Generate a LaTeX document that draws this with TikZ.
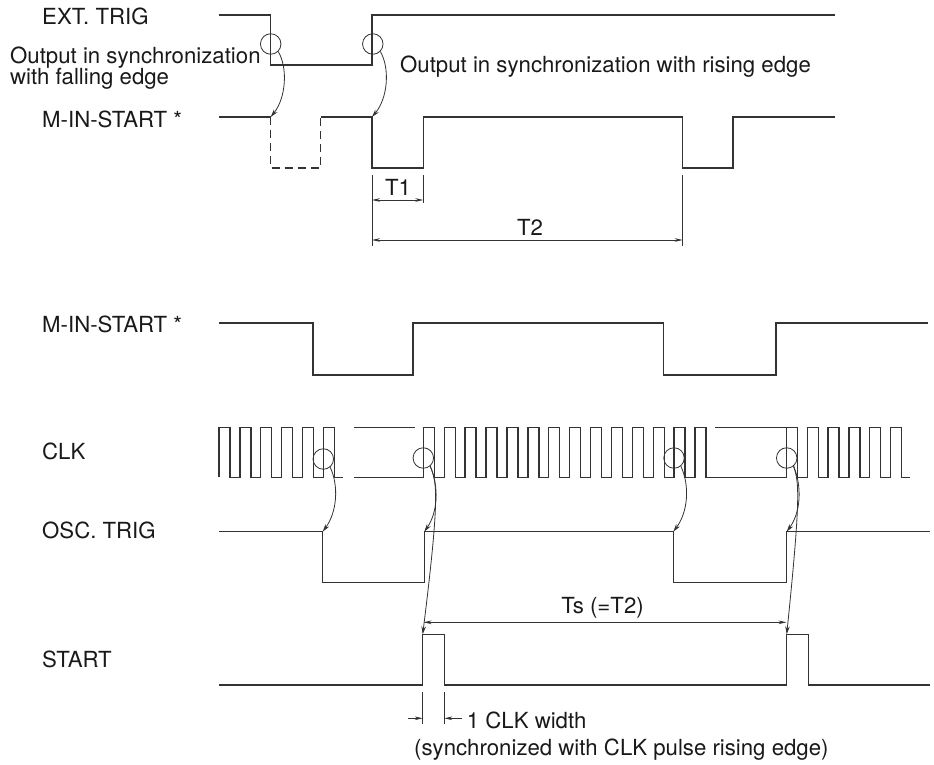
\documentclass[tikz,border=0pt]{standalone}
\usepackage{fontspec}
\setmainfont{TeX Gyre Heros}
\usetikzlibrary{arrows.meta}
\definecolor{ink}{HTML}{333333}
\tikzset{
  sig/.style={line width=1.4pt, draw=ink, line join=miter},
  thinl/.style={line width=0.8pt, draw=ink},
  arr/.style={thinl, -{Stealth[length=8pt,width=4.5pt]}},
  dimarr/.style={thinl, {Stealth[length=8pt,width=3.6pt]}-{Stealth[length=8pt,width=3.6pt]}},
  onearr/.style={thinl, -{Stealth[length=8pt,width=3.6pt]}},
  ring/.style={circle, draw=ink, line width=0.8pt, minimum size=20.5pt, inner sep=0pt},
  lbl/.style={font=\fontsize{22.2}{24}\selectfont, text=black!90, inner sep=0pt, anchor=base west},
  lblc/.style={font=\fontsize{22.2}{24}\selectfont, text=black!90, inner sep=0pt, anchor=base},
}
\begin{document}
\begin{tikzpicture}[x=1pt,y=-1pt]
\useasboundingbox (0,0) rectangle (934,765);

% ---------- labels ----------
\node[lbl] (lext) at (42,24.5) {EXT. TRIG};
\node[lbl] (lfall1) at (10,63.5) {Output in synchronization};
\node[lbl] (lfall2) at (10,85) {with falling edge};
\node[lbl] (lmin1) at (42,128) {M-IN-START *};
\node[lbl] (lrise) at (400,73) {Output in synchronization with rising edge};
\node[lblc] (lt1) at (398,195) {T1};
\node[lblc] (lt2) at (530,235) {T2};
\node[lbl] (lmin2) at (42,332) {M-IN-START *};
\node[lbl] (lclk) at (42,459) {CLK};
\node[lbl] (losc) at (42,538) {OSC. TRIG};
\node[lbl] (lstart) at (42,667) {START};
\node[lblc] (lts) at (602.5,613) {Ts (=T2)};
\node[lbl] (lw1) at (466.7,728) {1 CLK width};
\node[lbl] (lw2) at (414,755) {(synchronized with CLK pulse rising edge)};

% ---------- EXT. TRIG ----------
\draw[sig] (219,15) -- (270.7,15) -- (270.7,65) -- (372,65) -- (372,15) -- (835,15);

% ---------- M-IN-START (top) ----------
\coordinate (m1f) at (270.7,117);
\coordinate (m1r) at (372,117);
\draw[sig] (219,117) -- (m1f);
\draw[sig, dash pattern=on 8pt off 5pt] (m1f) -- (270.7,168) -- (320.7,168) -- (320.7,117);
\draw[sig] (320.7,117) -- (m1r) -- (372,168) -- (423.3,168) -- (423.3,117) -- (682.7,117)
  -- (682.7,168) -- (733,168) -- (733,117) -- (835,117);

% circles and arrows (top)
\node[ring] (ca) at (270.7,44) {};
\node[ring] (cb) at (372.8,44) {};
\draw[arr] (ca.-45) .. controls (288,68) and (286,98) .. (m1f);
\draw[arr] (cb.-45) .. controls (390,68) and (388,98) .. (m1r);

% T1 / T2 dimensions
\coordinate (d1a) at (372,175);
\coordinate (d1b) at (372,246);
\coordinate (d2a) at (423.3,175);
\coordinate (d2b) at (423.3,203);
\coordinate (d3a) at (682.7,175);
\coordinate (d3b) at (682.7,246);
\draw[thinl] (d1a) -- (d1b);
\draw[thinl] (d2a) -- (d2b);
\draw[thinl] (d3a) -- (d3b);
\coordinate (t1a) at (372,200);
\coordinate (t1b) at (423.3,200);
\coordinate (t2a) at (372,240);
\coordinate (t2b) at (682.7,240);
\draw[dimarr] (t1a) -- (t1b);
\draw[dimarr] (t2a) -- (t2b);

% ---------- M-IN-START (bottom) ----------
\draw[sig] (219,323) -- (313,323) -- (313,375) -- (413,375) -- (413,323) -- (663.3,323)
  -- (663.3,375) -- (776,375) -- (776,323) -- (928,323);

% ---------- CLK ----------
\def\hi{427.3}
\def\lo{477.3}
\draw[sig] (219,\lo)
  \foreach \k in {0,...,5}{ -- ({219+\k*20.85},\lo) -- ({219+\k*20.85},\hi) -- ({230+\k*20.85},\hi) -- ({230+\k*20.85},\lo) }
  -- (342.7,\lo);
\draw[sig] (354,\hi) -- (415,\hi);
\draw[sig] (354,\lo)
  \foreach \k in {0,...,13}{ -- ({423.3+\k*20.9},\lo) -- ({423.3+\k*20.9},\hi) -- ({434.3+\k*20.9},\hi) -- ({434.3+\k*20.9},\lo) }
  \foreach \k in {0,...,5}{ -- ({786.7+\k*20.7},\lo) -- ({786.7+\k*20.7},\hi) -- ({797.7+\k*20.7},\hi) -- ({797.7+\k*20.7},\lo) }
  -- (910,\lo);
\draw[sig] (715,\hi) -- (786.7,\hi);

\node[ring] (c1) at (323.3,459) {};
\node[ring] (c2) at (423.3,458) {};
\node[ring] (c3) at (674,458) {};
\node[ring] (c4) at (786.7,458) {};

% ---------- OSC. TRIG ----------
\coordinate (o1) at (322.7,531.7);
\coordinate (o2) at (424.3,531.7);
\coordinate (o3) at (673.3,531.7);
\coordinate (o4) at (786.7,531.7);
\draw[sig] (219,531.7) -- (o1) -- (322.7,582.3) -- (424.3,582.3) -- (o2) -- (o3)
  -- (673.3,582.3) -- (786.7,582.3) -- (o4) -- (930,531.7);

\draw[arr] (c1.-50) .. controls (339,486) and (337,512) .. (o1);
\draw[arr] (c2.-50) .. controls (439,486) and (438,512) .. (o2);
\draw[arr] (c3.-50) .. controls (690,486) and (688,512) .. (o3);
\draw[arr] (c4.-50) .. controls (802,486) and (801,512) .. (o4);

% ---------- START ----------
\coordinate (s1) at (422.7,634.3);
\coordinate (s2) at (786.7,634.3);
\draw[sig] (219,685) -- (422.7,685) -- (s1) -- (444.3,634.3) -- (444.3,685) -- (786.7,685)
  -- (s2) -- (808.3,634.3) -- (808.3,685) -- (930,685);

\draw[arr] (c2.-50) .. controls (437,482) and (440,495) .. (s1);
\draw[arr] (c4.-50) .. controls (799,482) and (801,495) .. (s2);

% Ts dimension
\coordinate (tsa) at (423.5,622.3);
\coordinate (tsb) at (786.5,622.3);
\draw[dimarr] (tsa) -- (tsb);

% 1 CLK width
\coordinate (w1a) at (422.7,691.7);
\coordinate (w1b) at (422.7,724);
\coordinate (w2a) at (444.3,691.7);
\coordinate (w2b) at (444.3,724);
\draw[thinl] (w1a) -- (w1b);
\draw[thinl] (w2a) -- (w2b);
\coordinate (wl) at (408.3,718.3);
\coordinate (wlt) at (422.7,718.3);
\coordinate (wr) at (461.7,718.3);
\coordinate (wrt) at (444.3,718.3);
\draw[onearr] (wl) -- (wlt);
\draw[onearr] (wr) -- (wrt);
\end{tikzpicture}
\end{document}
